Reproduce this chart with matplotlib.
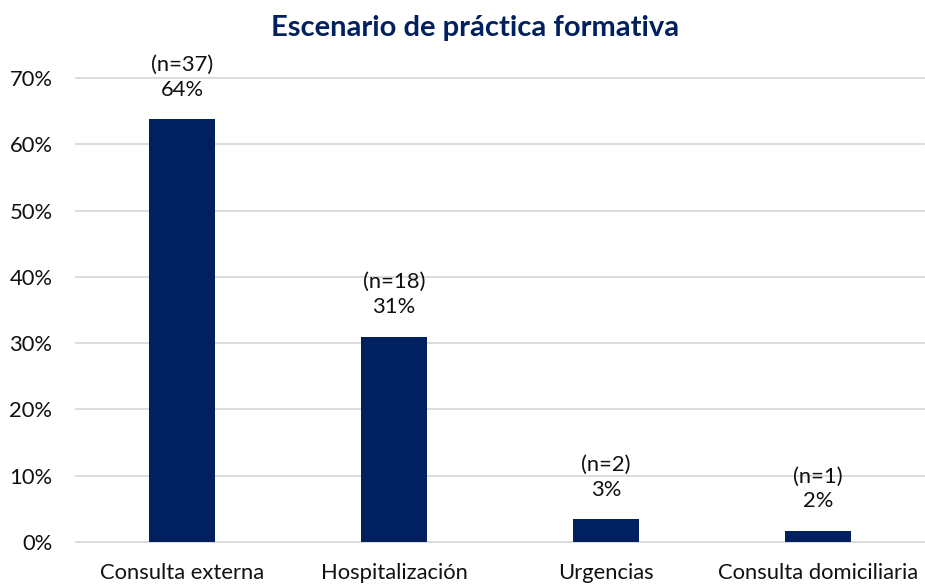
import matplotlib
matplotlib.use("Agg")
import matplotlib.pyplot as plt
from matplotlib.ticker import PercentFormatter

categories = ["Consulta externa", "Hospitalización", "Urgencias", "Consulta domiciliaria"]
counts = [37, 18, 2, 1]
shares = [0.638, 0.310, 0.034, 0.017]
value_labels = ["64%", "31%", "3%", "2%"]
yticks = [0, 0.1, 0.2, 0.3, 0.4, 0.5, 0.6, 0.7]

navy = "#002060"
plt.rcParams['font.family'] = ['Lato', 'DejaVu Sans']

fig = plt.figure(figsize=(9.25, 5.84), dpi=100)
ax = fig.add_axes([76/925, 1-542/584, 848/925, (542-78)/584])

x = list(range(len(categories)))
ax.bar(x, shares, width=0.31, color=navy, zorder=3)
for xi, s, n, lab in zip(x, shares, counts, value_labels):
    ax.annotate(f"(n={n})\n{lab}", (xi, s), xytext=(0, 14), textcoords="offset points",
                ha="center", va="bottom", fontsize=15.8, color="#111111", linespacing=1.3)

ax.set_xlim(-0.5, len(categories) - 0.5)
ax.set_ylim(0, 0.7)
ax.set_yticks(yticks)
ax.yaxis.set_major_formatter(PercentFormatter(1.0, decimals=0))
ax.set_xticks(x)
ax.set_xticklabels(categories)
ax.tick_params(axis="both", length=0, labelsize=15.8, colors="#111111")
ax.tick_params(axis="x", pad=15)
ax.tick_params(axis="y", pad=17)
ax.grid(axis="y", color="#D9D9D9", linewidth=1.3, zorder=0)
for gl in ax.get_ygridlines():
    gl.set_clip_on(False)
for sp in ax.spines.values():
    sp.set_visible(False)

fig.text(0.514, 1-28/584, "Escenario de práctica formativa", ha="center", va="center",
         fontsize=21, fontweight="bold", color=navy)

fig.savefig("out.png", dpi=100)
